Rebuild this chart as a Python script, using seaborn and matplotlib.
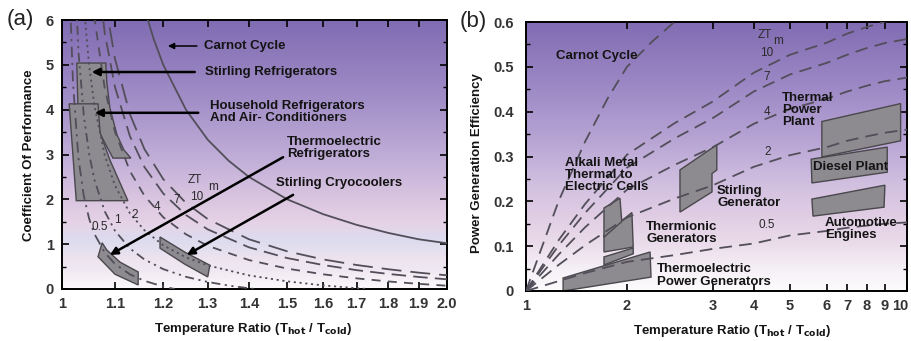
import numpy as np
import matplotlib
matplotlib.use("Agg")
import matplotlib.pyplot as plt
import seaborn as sns
from matplotlib.colors import LinearSegmentedColormap
from matplotlib.patches import Polygon
import matplotlib.ticker as mticker
import matplotlib.transforms as mtransforms

# ---------------- Panel (a) data: refrigeration COP vs temperature ratio ----------------
a_carnot_x = [1.15, 1.16, 1.18, 1.2, 1.25, 1.3, 1.35, 1.4, 1.5, 1.6, 1.7, 1.8, 1.9, 2.0]
a_carnot_y = [6.67, 6.25, 5.56, 5.0, 4.0, 3.33, 2.86, 2.5, 2.0, 1.67, 1.43, 1.25, 1.11, 1.02]

a_zt10_x = [1.06, 1.08, 1.1, 1.13, 1.16, 1.2, 1.25, 1.3, 1.4, 1.5, 1.6, 1.7, 1.8, 1.9, 2.0]
a_zt10_y = [8.71, 6.48, 5.14, 3.90, 3.12, 2.45, 1.92, 1.56, 1.11, 0.84, 0.66, 0.535, 0.44, 0.365, 0.305]
a_zt7_x = [1.05, 1.06, 1.08, 1.1, 1.13, 1.16, 1.2, 1.25, 1.3, 1.4, 1.5, 1.6, 1.7, 1.8, 1.9, 2.0]
a_zt7_y = [9.29, 7.70, 5.71, 4.51, 3.41, 2.72, 2.13, 1.65, 1.33, 0.93, 0.69, 0.535, 0.42, 0.336, 0.269, 0.216]
a_zt4_x = [1.04, 1.06, 1.08, 1.1, 1.13, 1.16, 1.2, 1.25, 1.3, 1.4, 1.5, 1.6, 1.7, 1.8, 1.9, 2.0]
a_zt4_y = [9.24, 6.06, 4.47, 3.51, 2.63, 2.08, 1.60, 1.22, 0.964, 0.646, 0.455, 0.328, 0.237, 0.168, 0.115, 0.073]
a_zt2_x = [1.03, 1.04, 1.05, 1.06, 1.08, 1.1, 1.13, 1.16, 1.2, 1.25, 1.3, 1.4, 1.5, 1.6, 1.7, 1.732]
a_zt2_y = [8.57, 6.33, 4.99, 4.10, 2.98, 2.31, 1.69, 1.31, 0.974, 0.706, 0.527, 0.304, 0.170, 0.081, 0.017, 0.0]
a_zt1_x = [1.02, 1.03, 1.04, 1.05, 1.06, 1.08, 1.1, 1.13, 1.16, 1.2, 1.25, 1.3, 1.35, 1.414]
a_zt1_y = [8.16, 5.30, 3.87, 3.02, 2.44, 1.73, 1.30, 0.905, 0.658, 0.443, 0.272, 0.157, 0.076, 0.0]
a_zt05_x = [1.01, 1.015, 1.02, 1.03, 1.04, 1.05, 1.06, 1.08, 1.1, 1.13, 1.16, 1.2, 1.225]
a_zt05_y = [9.65, 6.28, 4.60, 2.92, 2.08, 1.57, 1.23, 0.813, 0.56, 0.327, 0.182, 0.055, 0.0]

# device regions (a)
a_stirling_ref_x = [1.027, 1.082, 1.084, 1.090, 1.104, 1.118, 1.132, 1.096, 1.067, 1.029]
a_stirling_ref_y = [5.04, 5.04, 4.62, 4.04, 3.44, 3.10, 2.92, 2.92, 3.55, 4.13]
a_household_x = [1.013, 1.067, 1.071, 1.090, 1.126, 1.026]
a_household_y = [4.13, 4.13, 3.48, 2.88, 1.97, 1.97]
a_te_ref_x = [1.075, 1.067, 1.100, 1.147, 1.147, 1.110, 1.084]
a_te_ref_y = [1.03, 0.72, 0.33, 0.09, 0.38, 0.60, 0.87]
a_cryo_x = [1.193, 1.193, 1.248, 1.300, 1.305, 1.248]
a_cryo_y = [1.16, 0.91, 0.55, 0.27, 0.53, 0.82]

a_xticks = [1.0, 1.1, 1.2, 1.3, 1.4, 1.5, 1.6, 1.7, 1.8, 1.9, 2.0]
a_xticklabels = ["1", "1.1", "1.2", "1.3", "1.4", "1.5", "1.6", "1.7", "1.8", "1.9", "2.0"]
a_yticks = [0, 1, 2, 3, 4, 5, 6]

# ---------------- Panel (b) data: power generation efficiency ----------------
b_carnot_x = [1.0, 1.25, 1.5, 1.75, 2.0, 2.25, 2.5, 2.75]
b_carnot_y = [0.0, 0.2, 0.333, 0.429, 0.5, 0.556, 0.6, 0.636]
b_x = [1.0, 1.25, 1.5, 2.0, 2.5, 3.0, 4.0, 5.0, 6.0, 7.0, 8.0, 9.0, 10.0]
b_zt10_y = [0.0, 0.113, 0.194, 0.304, 0.374, 0.423, 0.487, 0.527, 0.554, 0.574, 0.589, 0.601, 0.610]
b_zt7_y = [0.0, 0.101, 0.174, 0.275, 0.340, 0.386, 0.445, 0.483, 0.509, 0.527, 0.542, 0.553, 0.562]
b_zt4_y = [0.0, 0.081, 0.142, 0.226, 0.281, 0.321, 0.373, 0.406, 0.429, 0.445, 0.458, 0.468, 0.476]
b_zt2_y = [0.0, 0.058, 0.102, 0.164, 0.206, 0.236, 0.277, 0.303, 0.321, 0.335, 0.345, 0.353, 0.360]
b_zt05_y = [0.0, 0.022, 0.040, 0.065, 0.080, 0.094, 0.106, 0.124, 0.134, 0.141, 0.146, 0.150, 0.153]

b_thermal_x = [5.85, 9.7, 9.7, 5.85]
b_thermal_y = [0.378, 0.418, 0.335, 0.299]
b_diesel_x = [5.55, 9.1, 9.1, 5.57]
b_diesel_y = [0.294, 0.321, 0.265, 0.241]
b_auto_x = [5.57, 9.0, 8.95, 5.6]
b_auto_y = [0.205, 0.236, 0.187, 0.167]
b_stirgen_x = [2.567, 3.08, 3.08, 2.985, 2.985, 2.567]
b_stirgen_y = [0.270, 0.326, 0.270, 0.262, 0.221, 0.176]
b_amtec_x = [1.708, 1.906, 1.93, 1.708]
b_amtec_y = [0.185, 0.207, 0.155, 0.12]
b_thermionic_x = [1.708, 2.047, 2.06, 1.708]
b_thermionic_y = [0.125, 0.175, 0.098, 0.087]
b_thermionic2_x = [1.708, 2.06, 2.06, 1.708]
b_thermionic2_y = [0.076, 0.096, 0.083, 0.058]
b_tepg_x = [1.29, 2.23, 2.24, 1.29]
b_tepg_y = [0.029, 0.087, 0.031, 0.0]

b_xticks = [1, 2, 3, 4, 5, 6, 7, 8, 9, 10]
b_yticks = [0, 0.1, 0.2, 0.3, 0.4, 0.5, 0.6]
b_yticklabels = ["0", "0.1", "0.2", "0.3", "0.4", "0.5", "0.6"]

# ---------------- style ----------------
sns.set_theme(style="ticks")
plt.rcParams["font.family"] = ["Liberation Sans Narrow", "Liberation Sans", "DejaVu Sans"]
plt.rcParams["mathtext.fontset"] = "custom"
plt.rcParams["mathtext.bf"] = "Liberation Sans Narrow:bold"
plt.rcParams["mathtext.rm"] = "Liberation Sans Narrow"

W, H = 911, 341
fig = plt.figure(figsize=(W / 100, H / 100), dpi=100)
fig.patch.set_facecolor("white")

rectA = [62 / W, 52 / H, 385 / W, 269 / H]
rectB = [526 / W, 50 / H, 381 / W, 269 / H]

cmapA = LinearSegmentedColormap.from_list("bgA", [
    (0.0, "#fbf9fc"), (0.06, "#f2eaf2"), (0.12, "#ebe2ee"), (0.18, "#dcdcef"),
    (0.24, "#e6d3e7"), (0.32, "#dcc7e1"), (0.5, "#bfacd7"), (0.72, "#a08cc6"),
    (1.0, "#806cb2")])
cmapB = LinearSegmentedColormap.from_list("bgB", [
    (0.0, "#fdfcfd"), (0.08, "#f5f0f6"), (0.18, "#eadbea"), (0.28, "#e0cde4"),
    (0.4, "#d1bfe0"), (0.55, "#b9a6d5"), (0.75, "#9e8ac6"), (1.0, "#826cb3")])

grad = np.linspace(0, 1, 256).reshape(-1, 1)
for rect, cm in ((rectA, cmapA), (rectB, cmapB)):
    bg = fig.add_axes(rect, zorder=-1)
    bg.imshow(grad, aspect="auto", cmap=cm, origin="lower", extent=[0, 1, 0, 1])
    bg.axis("off")

axA = fig.add_axes(rectA, zorder=1)
axB = fig.add_axes(rectB, zorder=1)
for ax in (axA, axB):
    ax.set_facecolor("none")

# custom x scale for panel (b) that follows the original hand-made axis
_LT = np.log10(np.array(b_xticks, dtype=float))
_FR = np.array([0.0, 0.265, 0.491, 0.598, 0.693, 0.790, 0.843, 0.895, 0.942, 1.0])


def _fwd(x):
    x = np.asarray(x, dtype=float)
    return np.interp(np.log10(np.clip(x, 1e-6, None)), _LT, _FR, left=-1, right=2)


def _inv(f):
    f = np.asarray(f, dtype=float)
    return 10 ** np.interp(f, _FR, _LT)


axA.set_xscale("log")
axB.set_xscale("function", functions=(_fwd, _inv))

CURVE = "#524e5a"
LW = 1.3

# ---------------- panel (a) ----------------
polyA = [(a_stirling_ref_x, a_stirling_ref_y), (a_household_x, a_household_y),
         (a_te_ref_x, a_te_ref_y), (a_cryo_x, a_cryo_y)]
for px, py in polyA:
    axA.add_patch(Polygon(np.column_stack([px, py]), closed=True, facecolor="#8d8b8f",
                          edgecolor="#4a484c", lw=1.0, zorder=2))

curvesA = [
    (a_carnot_x, a_carnot_y, "-"),
    (a_zt10_x, a_zt10_y, (0, (11, 5))),
    (a_zt7_x, a_zt7_y, (0, (8, 4))),
    (a_zt4_x, a_zt4_y, (0, (5, 4))),
    (a_zt2_x, a_zt2_y, (0, (1.2, 2))),
    (a_zt1_x, a_zt1_y, (0, (5, 2.5, 1.2, 2.5, 1.2, 2.5))),
    (a_zt05_x, a_zt05_y, (0, (6, 3, 1.2, 3))),
]
for cx, cy, ls in curvesA:
    sns.lineplot(x=cx, y=cy, ax=axA, color=CURVE, lw=LW, linestyle=ls,
                 sort=False, estimator=None, zorder=3)

axA.set_xlim(1.0, 2.0)
axA.set_ylim(0, 6)

lab = dict(fontsize=9.5, fontweight="bold", color="#141414", zorder=5)
axA.text(1.291, 5.42, "Carnot Cycle", ha="left", va="center", **lab)
axA.text(1.294, 4.84, "Stirling Refrigerators", ha="left", va="center", **lab)
axA.text(1.305, 3.95, "Household Refrigerators\nAnd Air- Conditioners", ha="left",
         va="center", linespacing=1.05, **lab)
axA.text(1.499, 3.14, "Thermoelectric\nRefrigerators", ha="left", va="center",
         linespacing=1.05, **lab)
axA.text(1.47, 2.36, "Stirling Cryocoolers", ha="left", va="center", **lab)

arr = dict(arrowstyle="-|>", color="black", lw=1.8, mutation_scale=11, shrinkA=0, shrinkB=0)
axA.annotate("", xy=(1.210, 5.42), xytext=(1.275, 5.42),
             arrowprops=dict(arr, lw=1.1, mutation_scale=9), zorder=5)
axA.annotate("", xy=(1.055, 4.84), xytext=(1.27, 4.84), arrowprops=arr, zorder=5)
axA.annotate("", xy=(1.061, 3.93), xytext=(1.278, 3.93), arrowprops=arr, zorder=5)
axA.annotate("", xy=(1.090, 0.76), xytext=(1.489, 2.94), arrowprops=arr, zorder=5)
axA.annotate("", xy=(1.252, 0.76), xytext=(1.516, 2.10), arrowprops=arr, zorder=5)

small = dict(fontsize=8.5, color="#2a2a2a", zorder=5, ha="center", va="center")
axA.text(1.27, 2.43, "ZT", **small)
axA.text(1.312, 2.28, "m", **small)
axA.text(1.275, 2.05, "10", **small)
axA.text(1.230, 1.99, "7", **small)
axA.text(1.186, 1.83, "4", **small)
axA.text(1.140, 1.65, "2", **small)
axA.text(1.104, 1.54, "1", **small)
axA.text(1.071, 1.38, "0.5", **small)

axA.set_xticks(a_xticks)
axA.set_xticklabels(a_xticklabels)
axA.xaxis.set_minor_locator(mticker.NullLocator())
axA.set_yticks(a_yticks)
axA.yaxis.set_minor_locator(mticker.MultipleLocator(0.5))

# ---------------- panel (b) ----------------
polyB = [(b_tepg_x, b_tepg_y), (b_thermionic2_x, b_thermionic2_y),
         (b_thermionic_x, b_thermionic_y), (b_amtec_x, b_amtec_y),
         (b_stirgen_x, b_stirgen_y), (b_diesel_x, b_diesel_y),
         (b_thermal_x, b_thermal_y), (b_auto_x, b_auto_y)]
for px, py in polyB:
    axB.add_patch(Polygon(np.column_stack([px, py]), closed=True, facecolor="#8d8b8f",
                          edgecolor="#4a484c", lw=1.0, zorder=2))

dashB = (0, (7, 4))
sns.lineplot(x=b_carnot_x, y=b_carnot_y, ax=axB, color=CURVE, lw=LW, linestyle=dashB,
             sort=False, estimator=None, zorder=3)
for cy in (b_zt10_y, b_zt7_y, b_zt4_y, b_zt2_y, b_zt05_y):
    sns.lineplot(x=b_x, y=cy, ax=axB, color=CURVE, lw=LW, linestyle=dashB,
                 sort=False, estimator=None, zorder=3)

axB.set_xlim(1, 10)
axB.set_ylim(0, 0.6)

axB.text(1.228, 0.524, "Carnot Cycle", ha="left", va="center", **lab)
axB.text(1.307, 0.259, "Alkali Metal\nThermal to\nElectric Cells", ha="left", va="center",
         linespacing=1.0, **lab)
axB.text(2.188, 0.129, "Thermionic\nGenerators", ha="left", va="center", linespacing=1.05, **lab)
axB.text(2.304, 0.035, "Thermoelectric\nPower Generators", ha="left", va="center",
         linespacing=1.05, **lab)
axB.text(3.086, 0.21, "Stirling\nGenerator", ha="left", va="center", linespacing=1.05, **lab)
axB.text(4.76, 0.404, "Thermal\nPower\nPlant", ha="left", va="center", linespacing=1.0, **lab)
axB.text(5.60, 0.277, "Diesel Plant", ha="left", va="center", **lab)
axB.text(5.94, 0.139, "Automotive\nEngines", ha="left", va="center", linespacing=1.0, **lab)

axB.text(4.28, 0.571, "ZT", **small)
axB.text(4.64, 0.558, "m", **small)
axB.text(4.33, 0.531, "10", **small)
axB.text(4.33, 0.477, "7", **small)
axB.text(4.33, 0.399, "4", **small)
axB.text(4.36, 0.31, "2", **small)
axB.text(4.33, 0.147, "0.5", **small)

axB.set_xticks(b_xticks)
axB.set_xticklabels([str(v) for v in b_xticks])
axB.xaxis.set_minor_locator(mticker.NullLocator())
axB.set_yticks(b_yticks)
axB.set_yticklabels(b_yticklabels)
axB.yaxis.set_minor_locator(mticker.MultipleLocator(0.05))

# ---------------- common axis styling ----------------
xl = "Temperature Ratio (T$_{\\mathbf{hot}}$ / T$_{\\mathbf{cold}}$)"
for ax, ylab, ylx, yly, xlx, ypad in ((axA, "Coefficient Of Performance", -0.07, 0.498, 0.496, 6),
                                       (axB, "Power Generation Efficiency", -0.113, 0.476, 0.54, 9)):
    for s in ax.spines.values():
        s.set_color("black")
        s.set_linewidth(1.4)
        s.set_visible(True)
    ax.tick_params(which="both", direction="in", top=True, right=True, color="black")
    ax.tick_params(which="major", length=5, width=1.2)
    ax.tick_params(which="minor", length=3, width=1.0)
    ax.tick_params(axis="x", pad=6, labelsize=10.5, labelcolor="#333333")
    ax.tick_params(axis="y", pad=ypad, labelsize=10.5, labelcolor="#333333")
    for t in ax.get_xticklabels() + ax.get_yticklabels():
        t.set_fontweight("bold")
    ax.set_xlabel(xl, fontsize=9.5, fontweight="bold", color="#141414")
    ax.set_ylabel(ylab, fontsize=9.5, fontweight="bold", color="#141414")
    ax.xaxis.set_label_coords(xlx, -0.12)
    ax.yaxis.set_label_coords(ylx, yly)
    ax.grid(False)

# keep the last "10" tick label inside the figure, as in the original
last = axB.get_xticklabels()[-1]
last.set_transform(last.get_transform() + mtransforms.ScaledTranslation(-7 / 100, 0, fig.dpi_scale_trans))

fig.text(7 / W, 1 - 19 / H, "(a)", fontsize=16, ha="left", va="center", color="#222222",
         family=["Liberation Sans", "DejaVu Sans"])
fig.text(460 / W, 1 - 21.5 / H, "(b)", fontsize=16, ha="left", va="center", color="#222222",
         family=["Liberation Sans", "DejaVu Sans"])

fig.savefig("out.png", dpi=100, facecolor="white")
